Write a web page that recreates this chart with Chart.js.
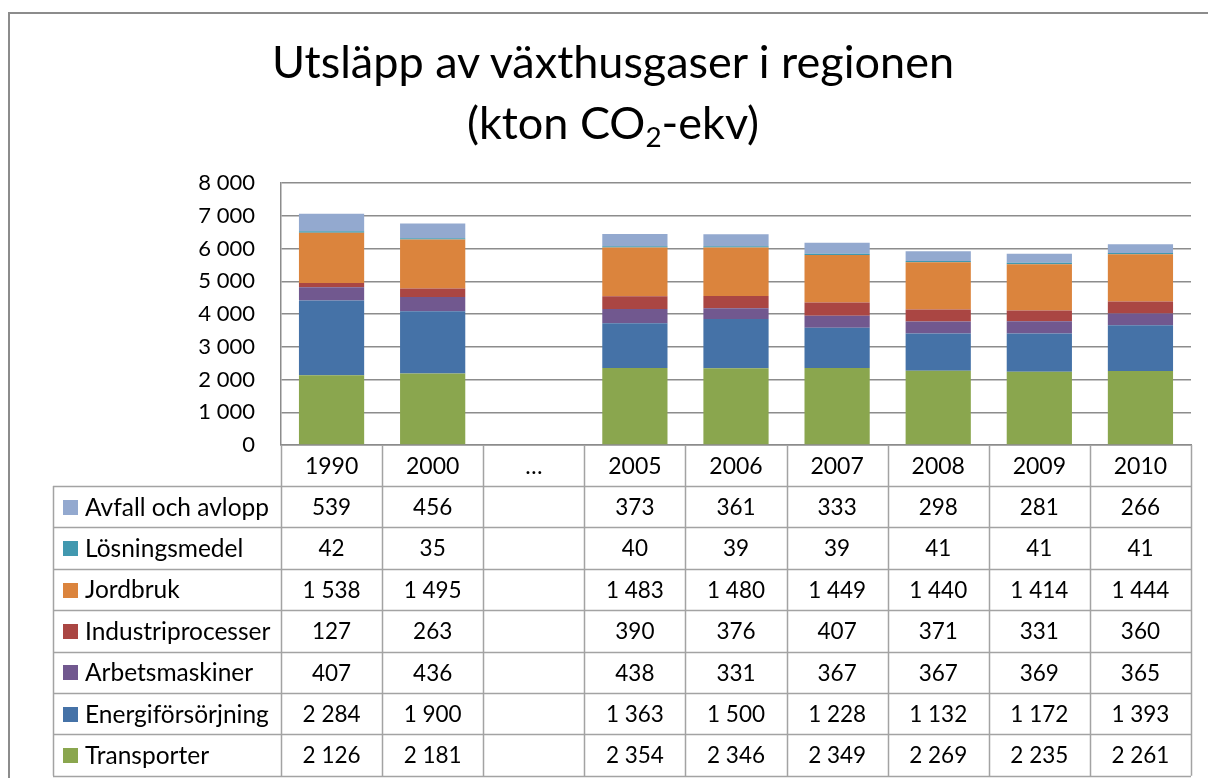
<!DOCTYPE html>
<html>
<head>
<meta charset="utf-8">
<script src="https://cdn.jsdelivr.net/npm/chart.js@4.4.1/dist/chart.umd.min.js"></script>
<style>
  html, body { margin: 0; padding: 0; background: #fff; overflow: hidden; }
  #wrap { position: relative; width: 1208px; height: 778px; overflow: hidden; }
  #frame { position: absolute; left: 8px; top: 12px; width: 1300px; height: 900px; border: 2px solid #8c8c8c; }
  .title { position: absolute; left: 0; width: 1226px; text-align: center; font-family: Lato, sans-serif; font-size: 45px; line-height: 45px; color: #000; white-space: nowrap; }
  .title sub { font-size: 0.62em; vertical-align: -0.28em; line-height: 0; }
  canvas { position: absolute; left: 0; top: 0; }
</style>
</head>
<body>
<div id="wrap">
  <div id="frame"></div>
  <canvas id="c_emissions" width="1208" height="778"></canvas>
  <div class="title" style="top:39px">Utsläpp av växthusgaser i regionen</div>
  <div class="title" style="top:100px">(kton CO<sub>2</sub>-ekv)</div>
</div>
<script>
// categories
const years = ['1990', '2000', '…', '2005', '2006', '2007', '2008', '2009', '2010']
// series (kton CO2-ekv), the "…" column has no values
const transporter = [2126, 2181, null, 2354, 2346, 2349, 2269, 2235, 2261]
const energiforsorjning = [2284, 1900, null, 1363, 1500, 1228, 1132, 1172, 1393]
const arbetsmaskiner = [407, 436, null, 438, 331, 367, 367, 369, 365]
const industriprocesser = [127, 263, null, 390, 376, 407, 371, 331, 360]
const jordbruk = [1538, 1495, null, 1483, 1480, 1449, 1440, 1414, 1444]
const losningsmedel = [42, 35, null, 40, 39, 39, 41, 41, 41]
const avfall = [539, 456, null, 373, 361, 333, 298, 281, 266]
// y axis ticks
const yTicks = [0, 1000, 2000, 3000, 4000, 5000, 6000, 7000, 8000]

const FONT = 'Lato, sans-serif'
const LINE = '#a3a3a3'

let fmt = function (v) {
    if (v === null || v === undefined) { return '' }
    const s = String(v)
    return s.length > 3 ? s.slice(0, -3) + ' ' + s.slice(-3) : s
}

// **** data table under the plot (drawn from the x scale)
const dataTable = {
    id: 'dataTable',
    afterDraw(chart) {
        const ctx = chart.ctx
        const x = chart.scales.x
        const area = chart.chartArea
        const colW = (area.right - area.left) / years.length
        const top = area.bottom
        const headH = 41
        const rowH = 41.4
        const left = 53
        const rows = chart.data.datasets.slice().reverse()
        const bottom = top + headH + rows.length * rowH

        ctx.save()
        ctx.strokeStyle = LINE
        ctx.lineWidth = 1.5
        ctx.beginPath()
        // horizontal lines
        for (let r = 0; r <= rows.length; r++) {
            const y = Math.round(top + headH + r * rowH) + 0.5
            ctx.moveTo(left, y)
            ctx.lineTo(area.right, y)
        }
        // vertical lines
        ctx.moveTo(left + 0.5, top + headH)
        ctx.lineTo(left + 0.5, bottom)
        for (let i = 0; i <= years.length; i++) {
            const xx = Math.round(area.left + i * colW) + 0.5
            ctx.moveTo(xx, top)
            ctx.lineTo(xx, bottom)
        }
        ctx.stroke()

        ctx.fillStyle = '#000'
        ctx.font = `23px ${FONT}`
        ctx.textBaseline = 'middle'
        ctx.textAlign = 'center'
        years.forEach((yr, i) => {
            ctx.fillText(yr, x.getPixelForValue(i), top + headH / 2 + 1)
        })
        rows.forEach((ds, r) => {
            const cy = top + headH + r * rowH + rowH / 2 + 1
            ctx.fillStyle = ds.backgroundColor
            ctx.fillRect(63, Math.round(cy - 8), 15, 15)
            ctx.fillStyle = '#000'
            ctx.textAlign = 'left'
            ctx.font = `24.5px ${FONT}`
            ctx.fillText(ds.label, 85, cy)
            ctx.textAlign = 'center'
            ctx.font = `22.5px ${FONT}`
            ds.data.forEach((v, i) => {
                ctx.fillText(fmt(v), x.getPixelForValue(i), cy)
            })
        })
        ctx.restore()
    }
}
// **** EOF

var ctx = document.getElementById('c_emissions').getContext('2d')

var data = {
    labels: years,
    datasets: [
        { label: 'Transporter', data: transporter, backgroundColor: '#8aa64e' },
        { label: 'Energiförsörjning', data: energiforsorjning, backgroundColor: '#4572a7' },
        { label: 'Arbetsmaskiner', data: arbetsmaskiner, backgroundColor: '#71588f' },
        { label: 'Industriprocesser', data: industriprocesser, backgroundColor: '#aa4643' },
        { label: 'Jordbruk', data: jordbruk, backgroundColor: '#db843d' },
        { label: 'Lösningsmedel', data: losningsmedel, backgroundColor: '#4198af' },
        { label: 'Avfall och avlopp', data: avfall, backgroundColor: '#93a9cf' }
    ]
}

var options = {
    responsive: false,
    animation: false,
    layout: {
        padding: { left: 0, top: 183, right: 17, bottom: 0 }
    },
    datasets: {
        bar: {
            barPercentage: 0.645,
            categoryPercentage: 1,
            borderWidth: 0
        }
    },
    plugins: {
        legend: { display: false },
        title: { display: false },
        tooltip: { enabled: false }
    },
    scales: {
        x: {
            stacked: true,
            grid: { display: false, drawTicks: false },
            border: { display: true, color: '#8c8c8c', width: 1.5 },
            ticks: { display: false },
            afterFit: (scale) => { scale.height = 333 }
        },
        y: {
            stacked: true,
            min: yTicks[0],
            max: yTicks[yTicks.length - 1],
            afterBuildTicks: (scale) => { scale.ticks = yTicks.map(v => ({ value: v })) },
            grid: { color: '#8c8c8c', lineWidth: 1.5, drawTicks: false },
            border: { display: true, color: '#8c8c8c', width: 1.5 },
            ticks: {
                padding: 26,
                color: '#000',
                font: { family: FONT, size: 22 },
                callback: (v) => fmt(v)
            },
            afterFit: (scale) => { scale.width = 281 }
        }
    }
}

new Chart(ctx, {
    type: 'bar',
    data: data,
    options: options,
    plugins: [dataTable]
})
</script>
</body>
</html>
